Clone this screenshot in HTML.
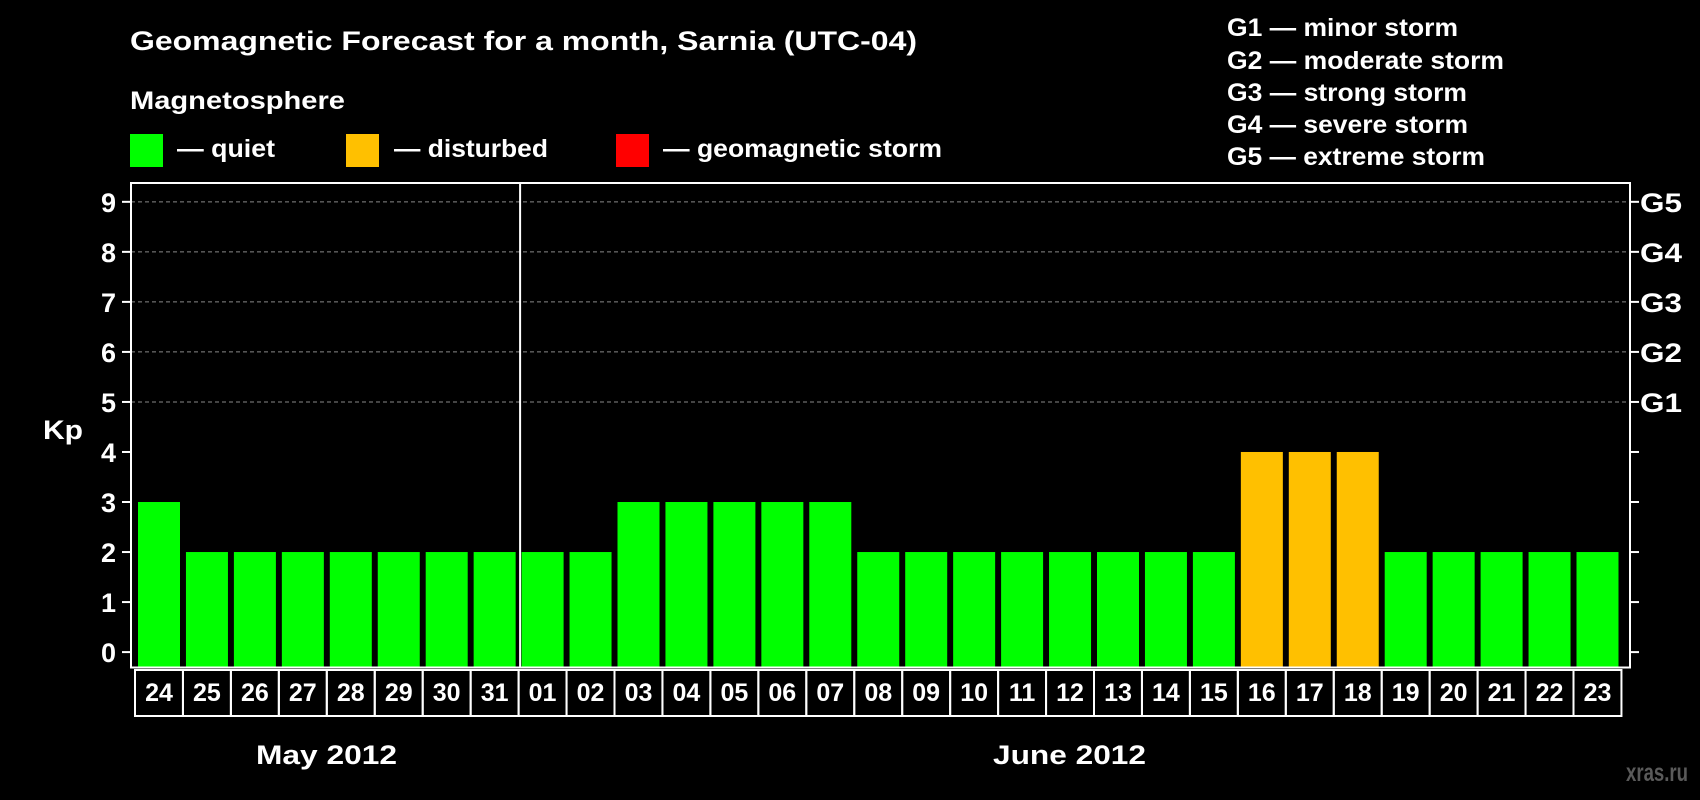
<!DOCTYPE html>
<html><head><meta charset="utf-8"><style>
html,body{margin:0;padding:0;background:#000;}
svg{display:block;font-family:"Liberation Sans",sans-serif;font-weight:bold;}
</style></head><body>
<svg id="chart" width="1700" height="800" viewBox="0 0 1700 800">
<text x="130" y="50" fill="#fff" font-size="27" textLength="787" lengthAdjust="spacingAndGlyphs">Geomagnetic Forecast for a month, Sarnia (UTC-04)</text>
<text x="130" y="109" fill="#fff" font-size="25" textLength="215" lengthAdjust="spacingAndGlyphs">Magnetosphere</text>
<rect x="130" y="134" width="33" height="33" fill="#00ff00"/>
<text x="177" y="157" fill="#fff" font-size="25" textLength="98" lengthAdjust="spacingAndGlyphs">— quiet</text>
<rect x="346" y="134" width="33" height="33" fill="#ffc000"/>
<text x="394" y="157" fill="#fff" font-size="25" textLength="154" lengthAdjust="spacingAndGlyphs">— disturbed</text>
<rect x="616" y="134" width="33" height="33" fill="#ff0000"/>
<text x="663" y="157" fill="#fff" font-size="25" textLength="279" lengthAdjust="spacingAndGlyphs">— geomagnetic storm</text>
<g fill="#fff" font-size="25">
<text x="1227" y="36" textLength="231" lengthAdjust="spacingAndGlyphs">G1 — minor storm</text>
<text x="1227" y="69" textLength="277" lengthAdjust="spacingAndGlyphs">G2 — moderate storm</text>
<text x="1227" y="101" textLength="240" lengthAdjust="spacingAndGlyphs">G3 — strong storm</text>
<text x="1227" y="133" textLength="241" lengthAdjust="spacingAndGlyphs">G4 — severe storm</text>
<text x="1227" y="165" textLength="258" lengthAdjust="spacingAndGlyphs">G5 — extreme storm</text>
</g>
<text x="43" y="439" fill="#fff" font-size="27" textLength="40" lengthAdjust="spacingAndGlyphs">Kp</text>
<text x="256" y="764" fill="#fff" font-size="27" textLength="141" lengthAdjust="spacingAndGlyphs">May 2012</text>
<text x="993" y="764" fill="#fff" font-size="27" textLength="153" lengthAdjust="spacingAndGlyphs">June 2012</text>
<text x="1626" y="781" fill="#5a5a5a" font-size="25" textLength="62" lengthAdjust="spacingAndGlyphs">xras.ru</text>
<g id="grid"></g><g id="bars"></g><g id="axes"></g>
</svg>
<script>
const days=["24","25","26","27","28","29","30","31","01","02","03","04","05","06","07","08","09","10","11","12","13","14","15","16","17","18","19","20","21","22","23"];
const kpValues=[3,2,2,2,2,2,2,2,2,2,3,3,3,3,3,2,2,2,2,2,2,2,2,4,4,4,2,2,2,2,2];
const yTicks=[0,1,2,3,4,5,6,7,8,9];
const gLabels=["G1","G2","G3","G4","G5"];
const monthBreak=8;
const NS="http://www.w3.org/2000/svg";
const L=131,R=1630,T=183,B=667.5,X0=135,PITCH=47.95;
function y(v){return 652.1-50.03*v;}
function x(i){return X0+PITCH*i;}
function mk(tag,attrs,parent,text){const e=document.createElementNS(NS,tag);for(const k in attrs)e.setAttribute(k,attrs[k]);if(text!==undefined)e.textContent=text;parent.appendChild(e);return e;}
const grid=document.getElementById('grid'),bars=document.getElementById('bars'),axes=document.getElementById('axes');
yTicks.forEach(v=>{
  if(v>=5){const g=mk('line',{x1:L,x2:R,y1:y(v),y2:y(v),stroke:'#888','stroke-width':1,'stroke-dasharray':'4,3'},grid);
  
  }
  const t1=mk('line',{x1:L-9,x2:L,y1:y(v),y2:y(v),stroke:'#fff','stroke-width':2},axes);
  
  
  const t2=mk('line',{x1:R,x2:R+9,y1:y(v),y2:y(v),stroke:'#fff','stroke-width':2},axes);
  
  
  const lb=mk('text',{x:116,y:y(v)+10,fill:'#fff','font-size':27,'text-anchor':'end'},axes,String(v));
  
  
});
gLabels.forEach((g,i)=>{
  const t=mk('text',{x:1640,y:y(5+i)+10,fill:'#fff','font-size':27,textLength:42,lengthAdjust:'spacingAndGlyphs'},axes,g);
  
  
});
kpValues.forEach((v,i)=>{
  const c=v>=5?'#ff0000':(v>=4?'#ffc000':'#00ff00');
  const b=mk('rect',{x:x(i)+3,y:y(v),width:42,height:B-y(v),fill:c},bars);
  
  
  const bx=mk('rect',{x:x(i),y:670,width:PITCH,height:46,fill:'none',stroke:'#fff','stroke-width':2},axes);
  
  
  const t=mk('text',{x:x(i)+PITCH/2,y:701,fill:'#fff','font-size':25,'text-anchor':'middle'},axes,days[i]);
  
  
});
const fr=mk('rect',{x:L,y:T,width:R-L,height:B-T,fill:'none',stroke:'#fff','stroke-width':2},axes);


const dv=mk('line',{x1:x(monthBreak)+1.5,x2:x(monthBreak)+1.5,y1:T,y2:B,stroke:'#fff','stroke-width':2},axes);


</script>
</body></html>
